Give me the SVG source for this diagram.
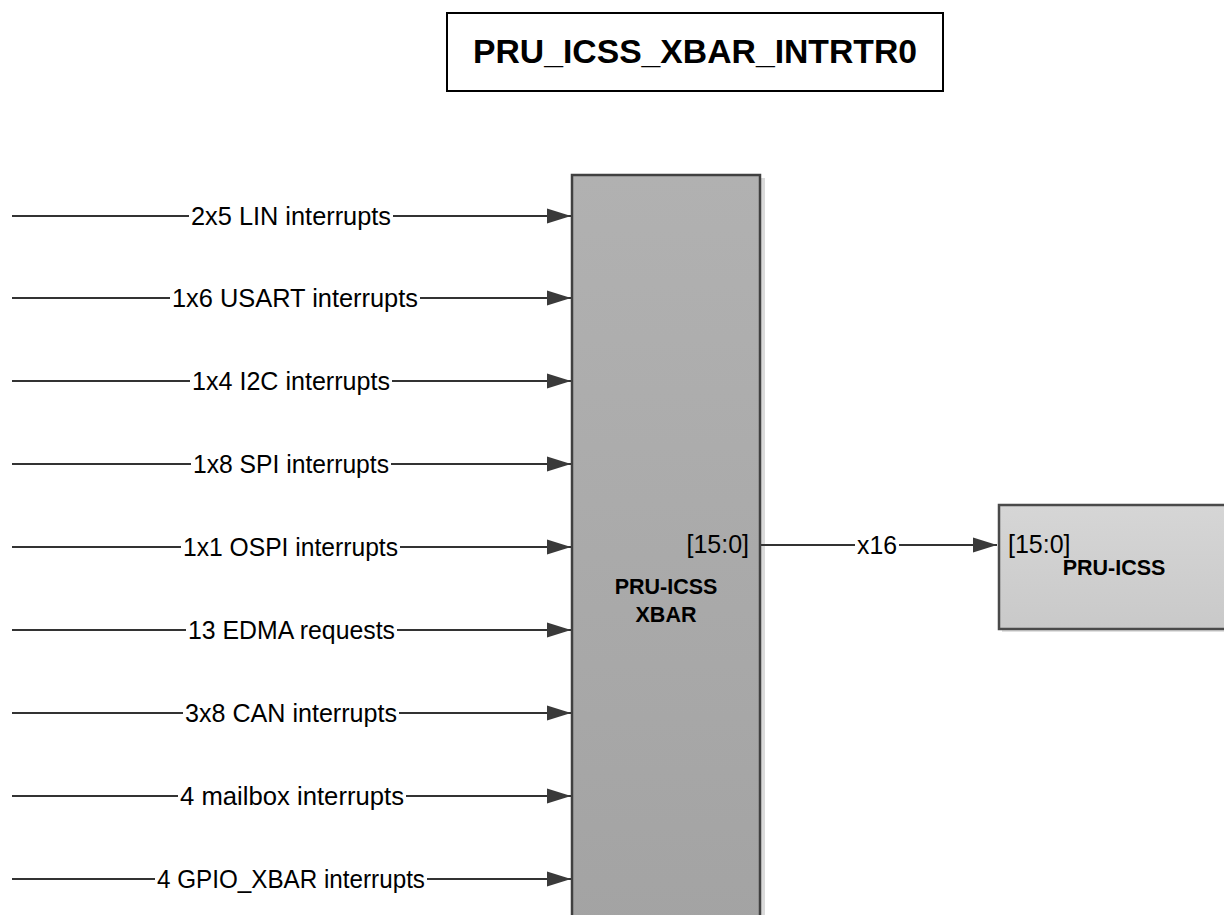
<svg xmlns="http://www.w3.org/2000/svg" width="1224" height="915" viewBox="0 0 1224 915">
<style>
.lbl{font-family:"Liberation Sans",Arial,sans-serif;font-size:25px;fill:#000}
.bold{font-family:"Liberation Sans",Arial,sans-serif;font-weight:bold;fill:#000;text-anchor:middle}
.wire{stroke:#333;stroke-width:2;fill:none}
</style>
<defs>
<linearGradient id="gX" x1="0" y1="0" x2="0" y2="1">
<stop offset="0" stop-color="#b1b1b1"/><stop offset="1" stop-color="#a3a3a3"/>
</linearGradient>
<linearGradient id="gP" x1="0" y1="0" x2="0" y2="1">
<stop offset="0" stop-color="#d6d6d6"/><stop offset="1" stop-color="#c9c9c9"/>
</linearGradient>
<marker id="arr" markerUnits="userSpaceOnUse" markerWidth="24" markerHeight="16" refX="24" refY="8" orient="auto">
<path d="M0,0.5 L24,8 L0,15.5 z" fill="#3a3a3a"/>
</marker>
</defs>
<rect width="1224" height="915" fill="#fff"/>
<g id="title">
<rect x="447" y="13" width="496" height="78" fill="#fff" stroke="#000" stroke-width="2"/>
<text class="bold" x="695" y="63" font-size="33" textLength="444" lengthAdjust="spacingAndGlyphs">PRU_ICSS_XBAR_INTRTR0</text>
</g>
<g id="xbar">
<rect x="575" y="178" width="190" height="760" fill="#dadada"/>
<rect x="572" y="175" width="188" height="760" fill="url(#gX)" stroke="#404040" stroke-width="2.5"/>
<text class="lbl" x="749" y="553" text-anchor="end">[15:0]</text>
<text class="bold" x="666" y="594" font-size="21.5">PRU-ICSS</text>
<text class="bold" x="666" y="622" font-size="21.5">XBAR</text>
</g>
<g id="pru-icss">
<rect x="1002" y="508" width="240" height="124" fill="#e0e0e0"/>
<rect x="999" y="505" width="240" height="124" fill="url(#gP)" stroke="#4a4a4a" stroke-width="2.5"/>
<text class="lbl" x="1008" y="553">[15:0]</text>
<text class="bold" x="1114" y="575" font-size="21.5">PRU-ICSS</text>
</g>
<g id="connectors">
<line class="wire" x1="12" y1="216" x2="189" y2="216"/><line class="wire" x1="393" y1="216" x2="571" y2="216" marker-end="url(#arr)"/>
<line class="wire" x1="12" y1="298" x2="170" y2="298"/><line class="wire" x1="420" y1="298" x2="571" y2="298" marker-end="url(#arr)"/>
<line class="wire" x1="12" y1="381" x2="190" y2="381"/><line class="wire" x1="392" y1="381" x2="571" y2="381" marker-end="url(#arr)"/>
<line class="wire" x1="12" y1="464" x2="191" y2="464"/><line class="wire" x1="391" y1="464" x2="571" y2="464" marker-end="url(#arr)"/>
<line class="wire" x1="12" y1="547" x2="181" y2="547"/><line class="wire" x1="400" y1="547" x2="571" y2="547" marker-end="url(#arr)"/>
<line class="wire" x1="12" y1="630" x2="186" y2="630"/><line class="wire" x1="397" y1="630" x2="571" y2="630" marker-end="url(#arr)"/>
<line class="wire" x1="12" y1="713" x2="183" y2="713"/><line class="wire" x1="399" y1="713" x2="571" y2="713" marker-end="url(#arr)"/>
<line class="wire" x1="12" y1="796" x2="178" y2="796"/><line class="wire" x1="406" y1="796" x2="571" y2="796" marker-end="url(#arr)"/>
<line class="wire" x1="12" y1="879" x2="155" y2="879"/><line class="wire" x1="427" y1="879" x2="571" y2="879" marker-end="url(#arr)"/>
<line class="wire" x1="761" y1="545" x2="855" y2="545"/><line class="wire" x1="899" y1="545" x2="997" y2="545" marker-end="url(#arr)"/>
<text class="lbl" x="191" y="225" textLength="200" lengthAdjust="spacingAndGlyphs">2x5 LIN interrupts</text>
<text class="lbl" x="172" y="307" textLength="246" lengthAdjust="spacingAndGlyphs">1x6 USART interrupts</text>
<text class="lbl" x="192" y="390" textLength="198" lengthAdjust="spacingAndGlyphs">1x4 I2C interrupts</text>
<text class="lbl" x="193" y="473" textLength="196" lengthAdjust="spacingAndGlyphs">1x8 SPI interrupts</text>
<text class="lbl" x="183" y="556" textLength="215" lengthAdjust="spacingAndGlyphs">1x1 OSPI interrupts</text>
<text class="lbl" x="188" y="639" textLength="207" lengthAdjust="spacingAndGlyphs">13 EDMA requests</text>
<text class="lbl" x="185" y="722" textLength="212" lengthAdjust="spacingAndGlyphs">3x8 CAN interrupts</text>
<text class="lbl" x="180" y="805" textLength="224" lengthAdjust="spacingAndGlyphs">4 mailbox interrupts</text>
<text class="lbl" x="157" y="888" textLength="268" lengthAdjust="spacingAndGlyphs">4 GPIO_XBAR interrupts</text>
<text class="lbl" x="857" y="554" textLength="40" lengthAdjust="spacingAndGlyphs">x16</text>
</g>
</svg>
